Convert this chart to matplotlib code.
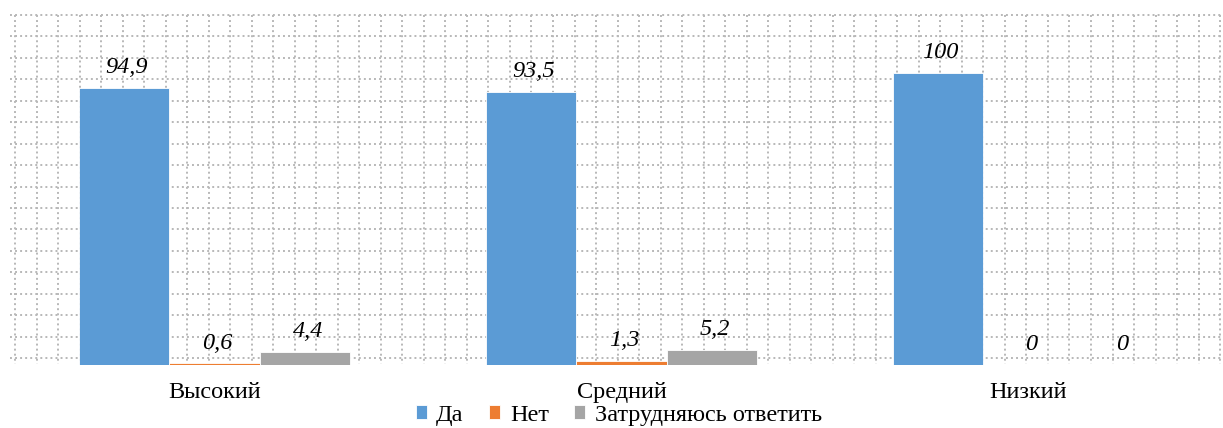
import numpy as np
import matplotlib.pyplot as plt

categories = ["Высокий", "Средний", "Низкий"]
series_names = ["Да", "Нет", "Затрудняюсь ответить"]
da = [94.9, 93.5, 100]
net = [0.6, 1.3, 0]
zatr = [4.4, 5.2, 0]
labels_da = ["94,9", "93,5", "100"]
labels_net = ["0,6", "1,3", "0"]
labels_zatr = ["4,4", "5,2", "0"]
colors = ["#5B9BD5", "#ED7D31", "#A5A5A5"]

plt.rcParams["font.family"] = ["Liberation Serif", "DejaVu Serif"]

W, H = 1223, 428
fig = plt.figure(figsize=(W / 100, H / 100), dpi=100)

# background grid paper (pixel coordinates)
bg = fig.add_axes([0, 0, 1, 1], zorder=0)
bg.set_xlim(0, W)
bg.set_ylim(H, 0)
bg.axis("off")
grid_kw = dict(color="#B8B8B8", linewidth=1.4, linestyles=(0, (1, 1.6)))
for y in np.linspace(15, 358, 17):
    bg.hlines(y, 10, W, **grid_kw)
for x in np.arange(15, W, 21.52):
    bg.vlines(x, 15, 364, **grid_kw)

# main axes
left_px, right_px, top_px, bot_px = 11, 1232, 15, 365
ax = fig.add_axes([left_px / W, (H - bot_px) / H, (right_px - left_px) / W,
                   (bot_px - top_px) / H], zorder=1)
ax.patch.set_alpha(0)
ax.set_xlim(-0.5, 2.5)
ax.set_ylim(0, 119.7)

x = np.arange(len(categories))
bw = 0.2225
series = [da, net, zatr]
labels = [labels_da, labels_net, labels_zatr]
handles = []
for i, (vals, lbls) in enumerate(zip(series, labels)):
    pos = x + (i - 1) * bw
    b = ax.bar(pos, vals, width=bw, color=colors[i], edgecolor="white",
               linewidth=0.6, label=series_names[i])
    handles.append(b)
    for px, v, t in zip(pos, vals, lbls):
        ax.annotate(t, (px, v), xytext=(2, 7), textcoords="offset points",
                    ha="center", va="bottom", fontsize=17.5, style="italic")

ax.set_xticks(x)
ax.set_xticklabels(categories, fontsize=17.5)
ax.tick_params(axis="x", length=0, pad=12)
ax.set_yticks([])
for s in ax.spines.values():
    s.set_visible(False)

fig.legend(handles=handles, labels=series_names, loc="center",
           bbox_to_anchor=(0.506, 0.03), ncol=3, frameon=False, fontsize=17.5,
           handlelength=0.45, handleheight=0.45, handletextpad=0.4,
           columnspacing=1.05, borderaxespad=0)

fig.savefig("out.png", dpi=100)
